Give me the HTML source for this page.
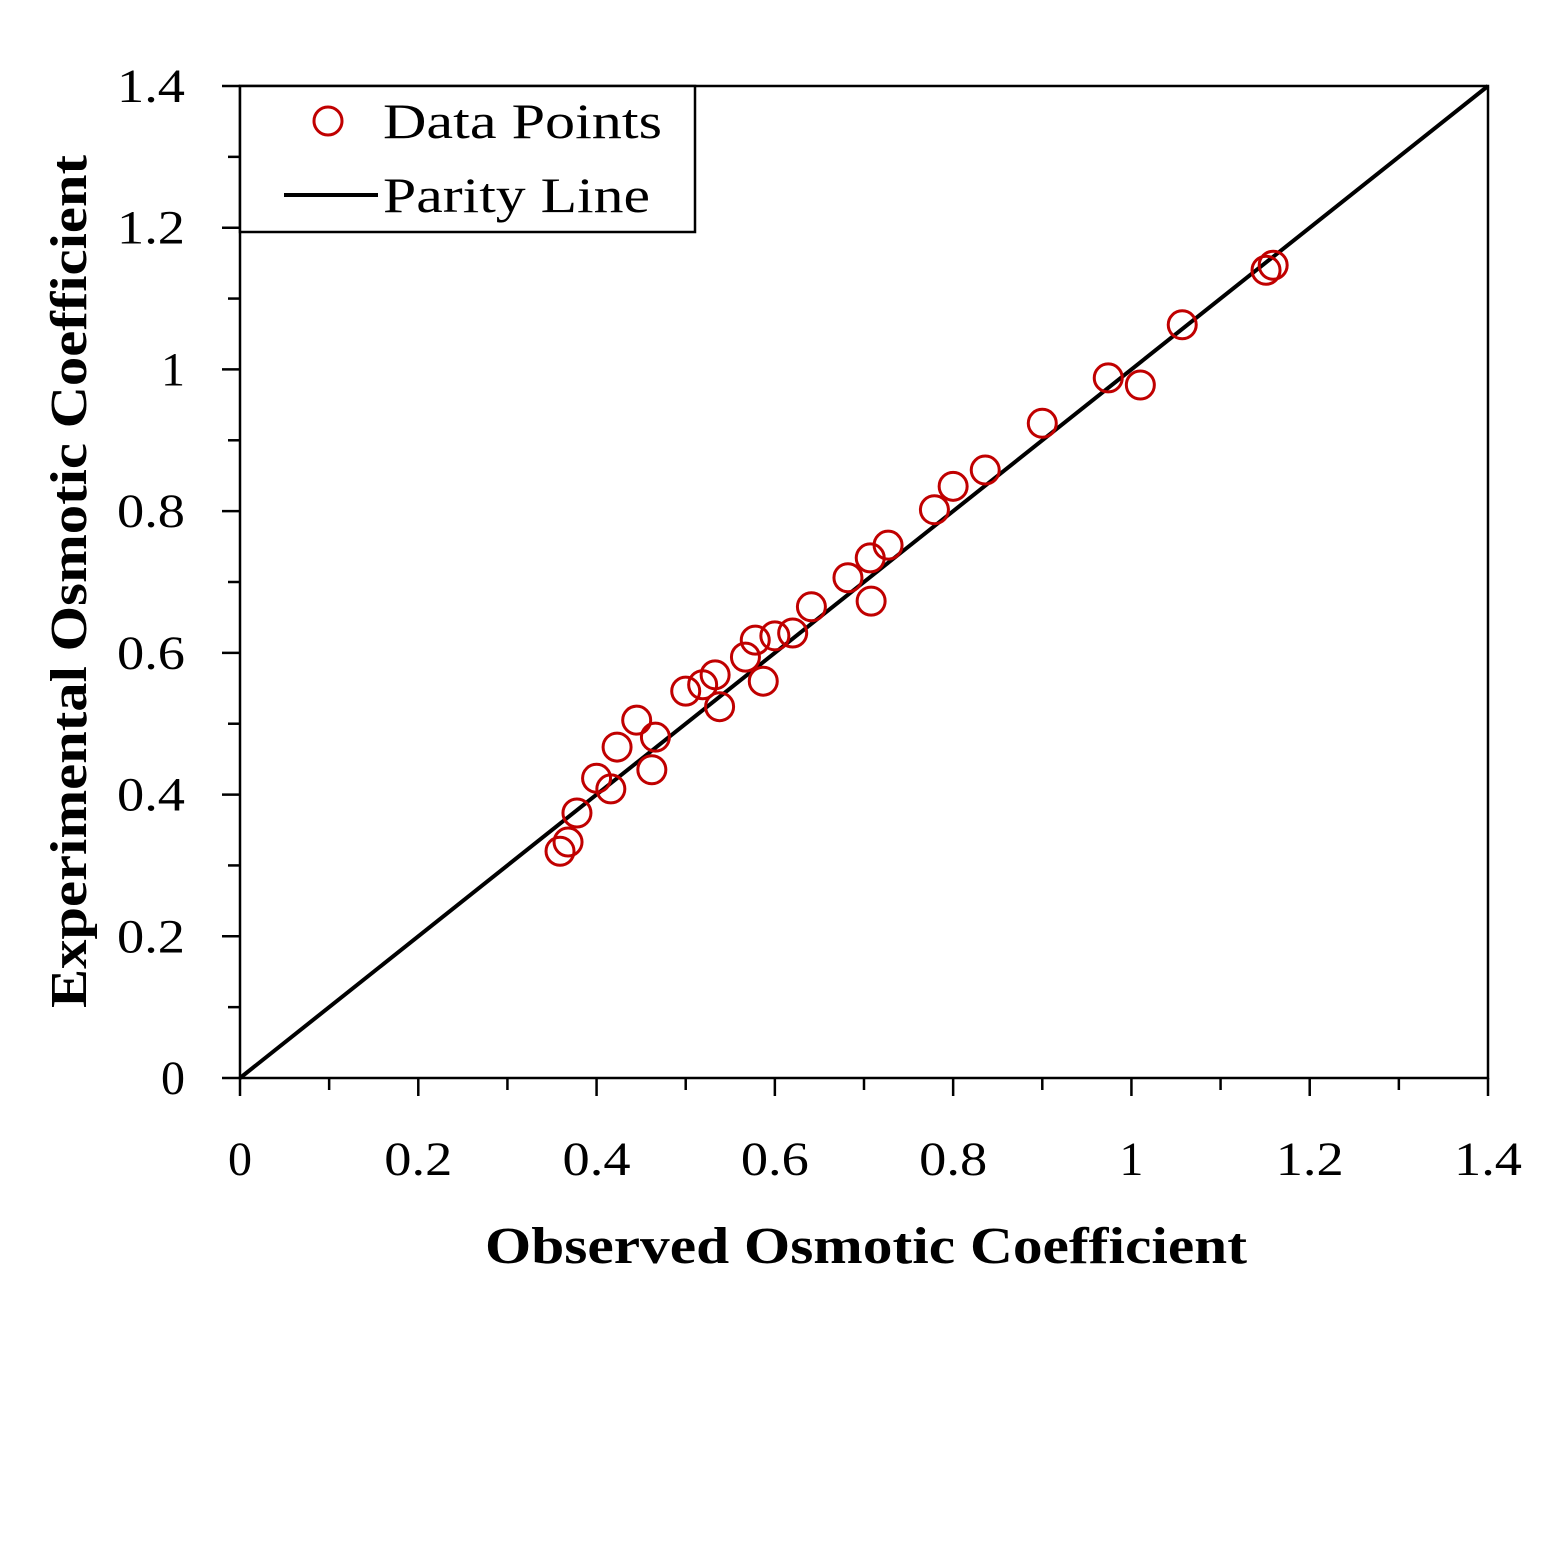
<!DOCTYPE html>
<html><head><meta charset="utf-8"><style>
html,body{margin:0;padding:0;background:#fff;}
svg{display:block;font-family:"Liberation Serif",serif;}
</style></head><body>
<svg id="chart" width="1559" height="1567" viewBox="0 0 1559 1567">
<g id="axes"></g><g id="marks"></g>
<g>
<rect x="240" y="86" width="455" height="146" fill="#fff" stroke="#000" stroke-width="2.5"/>
<circle cx="328" cy="121" r="14" fill="none" stroke="#c00000" stroke-width="3"/>
<text x="383" y="138" font-size="50" textLength="279" lengthAdjust="spacingAndGlyphs">Data Points</text>
<line x1="284" y1="195" x2="378" y2="195" stroke="#000" stroke-width="4"/>
<text x="383" y="212" font-size="50" textLength="267" lengthAdjust="spacingAndGlyphs">Parity Line</text>
</g>
<text x="485" y="1263" font-size="52" font-weight="bold" textLength="762" lengthAdjust="spacingAndGlyphs">Observed Osmotic Coefficient</text>
<text transform="translate(86,1008) rotate(-90)" font-size="52" font-weight="bold" textLength="853" lengthAdjust="spacingAndGlyphs">Experimental Osmotic Coefficient</text>
</svg>
<script>
const xObs=[0.359,0.368,0.378,0.400,0.416,0.423,0.445,0.462,0.466,0.500,0.519,0.533,0.538,0.567,0.578,0.587,0.600,0.620,0.641,0.682,0.707,0.708,0.727,0.779,0.800,0.836,0.900,0.974,1.010,1.057,1.151,1.159];
const yExp=[0.320,0.333,0.374,0.423,0.408,0.467,0.505,0.435,0.481,0.546,0.555,0.569,0.524,0.594,0.618,0.560,0.624,0.628,0.665,0.706,0.734,0.673,0.752,0.802,0.835,0.858,0.924,0.988,0.978,1.063,1.140,1.147];
const xTicks=[0,0.2,0.4,0.6,0.8,1,1.2,1.4];
const yTicks=[0,0.2,0.4,0.6,0.8,1,1.2,1.4];
const X=v=>240+v*(1248/1.4), Y=v=>1078-v*(992/1.4);
const NS="http://www.w3.org/2000/svg";
const ax=document.getElementById('axes'), mk=document.getElementById('marks');
function el(t,a,p){const e=document.createElementNS(NS,t);for(const k in a)e.setAttribute(k,a[k]);p.appendChild(e);return e;}
function lab(txt,x,y,anchor){
  const a={x:x,y:y,'font-size':48,'text-anchor':anchor};
  if(txt.length>1){a.textLength=68;a.lengthAdjust='spacingAndGlyphs';}
  const l=el('text',a,ax);l.textContent=txt;return l;
}
const frame=el('rect',{x:240,y:86,width:1248,height:992,fill:'none',stroke:'#000','stroke-width':2.5},ax);


for(let i=0;i<xTicks.length;i++){
  const v=xTicks[i];
  const t=el('line',{x1:X(v),x2:X(v),y1:1078,y2:1096,stroke:'#000','stroke-width':2.5},ax);
  
  
  const l=lab(String(v),X(v),1175,'middle');
  
  
  if(i<xTicks.length-1){const m=el('line',{x1:X(v+0.1),x2:X(v+0.1),y1:1078,y2:1090,stroke:'#000','stroke-width':2.5},ax);
  
  }
}
for(let i=0;i<yTicks.length;i++){
  const v=yTicks[i];
  const t=el('line',{x1:222,x2:240,y1:Y(v),y2:Y(v),stroke:'#000','stroke-width':2.5},ax);
  
  
  const l=lab(String(v),185,Y(v)+16,'end');
  
  
  if(i<yTicks.length-1){const m=el('line',{x1:228,x2:240,y1:Y(v+0.1),y2:Y(v+0.1),stroke:'#000','stroke-width':2.5},ax);
  
  }
}
const pl=el('line',{x1:X(0),y1:Y(0),x2:X(1.4),y2:Y(1.4),stroke:'#000','stroke-width':4},mk);


for(let i=0;i<xObs.length;i++){
  const c=el('circle',{cx:X(xObs[i]),cy:Y(yExp[i]),r:14,fill:'none',stroke:'#c00000','stroke-width':3},mk);
  
  
}
</script>
</body></html>
